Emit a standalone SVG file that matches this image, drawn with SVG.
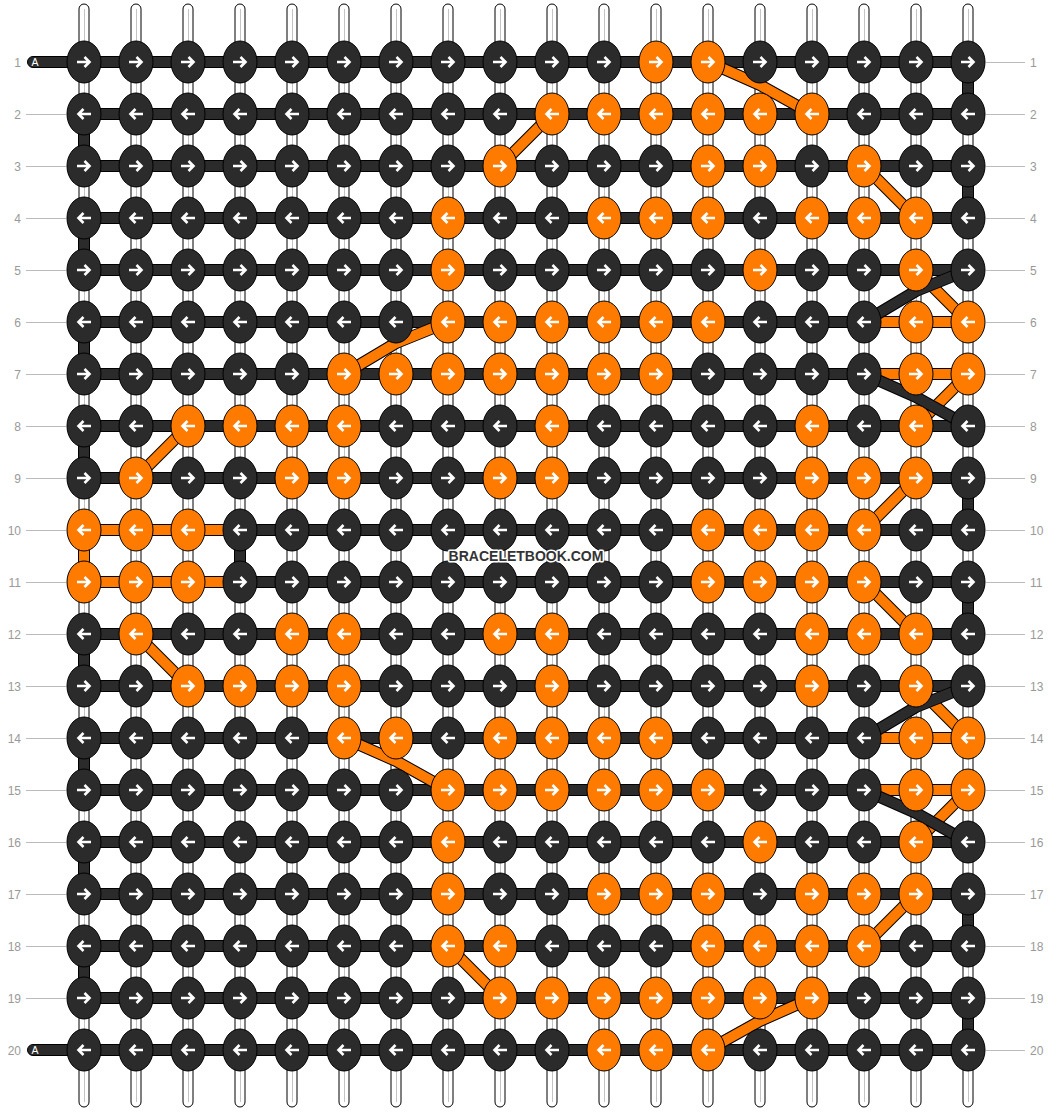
<svg xmlns="http://www.w3.org/2000/svg" width="1052" height="1112" viewBox="0 0 1052 1112">
<style>
.s{fill:#fff;stroke:#000;stroke-width:1}
.sl{stroke:#c4c4c4;stroke-width:1}
.hb{fill:#2b2b2b;stroke:#000;stroke-width:1}
.ho{fill:#ff7b00;stroke:#000;stroke-width:1}
.dgo{fill:none;stroke:#000;stroke-width:12;stroke-linejoin:round}
.dgc{fill:none;stroke-width:10;stroke-linejoin:round}
.cd{stroke:#2b2b2b}
.co{stroke:#ff7b00}
.kd{fill:#2b2b2b;stroke:#000;stroke-width:1}
.ko{fill:#ff7b00;stroke:#000;stroke-width:1}
.ar{fill:none;stroke:#fff;stroke-width:2.6}
.lb{font-family:"Liberation Sans",Arial,sans-serif;font-size:12px;fill:#999}
.gl{stroke:#bbb;stroke-width:1}
.pa{font-family:"Liberation Sans",Arial,sans-serif;font-size:10.5px;fill:#fff}
.wm{font-family:"Liberation Sans",Arial,sans-serif;font-size:14px;font-weight:bold;fill:#333;stroke:#fff;stroke-width:3;paint-order:stroke;stroke-linejoin:round}
</style>
<defs>
<g id="dR"><ellipse rx="17" ry="21" class="kd"/><path class="ar" d="M-7 0H5.5M0.5-5L5.5 0L0.5 5"/></g>
<g id="dL"><ellipse rx="17" ry="21" class="kd"/><path class="ar" d="M7 0H-5.5M-0.5-5L-5.5 0L-0.5 5"/></g>
<g id="oR"><ellipse rx="17" ry="21" class="ko"/><path class="ar" d="M-7 0H5.5M0.5-5L5.5 0L0.5 5"/></g>
<g id="oL"><ellipse rx="17" ry="21" class="ko"/><path class="ar" d="M7 0H-5.5M-0.5-5L-5.5 0L-0.5 5"/></g>
</defs>
<rect width="1052" height="1112" fill="#fff"/>
<g id="labels">
<g class="gl">
<line x1="26" y1="114.5" x2="66" y2="114.5"/><line x1="26" y1="166.5" x2="66" y2="166.5"/><line x1="26" y1="218.5" x2="66" y2="218.5"/><line x1="26" y1="270.5" x2="66" y2="270.5"/><line x1="26" y1="322.5" x2="66" y2="322.5"/><line x1="26" y1="374.5" x2="66" y2="374.5"/><line x1="26" y1="426.5" x2="66" y2="426.5"/><line x1="26" y1="478.5" x2="66" y2="478.5"/><line x1="26" y1="530.5" x2="66" y2="530.5"/><line x1="26" y1="582.5" x2="66" y2="582.5"/><line x1="26" y1="634.5" x2="66" y2="634.5"/><line x1="26" y1="686.5" x2="66" y2="686.5"/><line x1="26" y1="738.5" x2="66" y2="738.5"/><line x1="26" y1="790.5" x2="66" y2="790.5"/><line x1="26" y1="842.5" x2="66" y2="842.5"/><line x1="26" y1="894.5" x2="66" y2="894.5"/><line x1="26" y1="946.5" x2="66" y2="946.5"/><line x1="26" y1="998.5" x2="66" y2="998.5"/>
<line x1="986" y1="62.5" x2="1025" y2="62.5"/><line x1="986" y1="114.5" x2="1025" y2="114.5"/><line x1="986" y1="166.5" x2="1025" y2="166.5"/><line x1="986" y1="218.5" x2="1025" y2="218.5"/><line x1="986" y1="270.5" x2="1025" y2="270.5"/><line x1="986" y1="322.5" x2="1025" y2="322.5"/><line x1="986" y1="374.5" x2="1025" y2="374.5"/><line x1="986" y1="426.5" x2="1025" y2="426.5"/><line x1="986" y1="478.5" x2="1025" y2="478.5"/><line x1="986" y1="530.5" x2="1025" y2="530.5"/><line x1="986" y1="582.5" x2="1025" y2="582.5"/><line x1="986" y1="634.5" x2="1025" y2="634.5"/><line x1="986" y1="686.5" x2="1025" y2="686.5"/><line x1="986" y1="738.5" x2="1025" y2="738.5"/><line x1="986" y1="790.5" x2="1025" y2="790.5"/><line x1="986" y1="842.5" x2="1025" y2="842.5"/><line x1="986" y1="894.5" x2="1025" y2="894.5"/><line x1="986" y1="946.5" x2="1025" y2="946.5"/><line x1="986" y1="998.5" x2="1025" y2="998.5"/><line x1="986" y1="1050.5" x2="1025" y2="1050.5"/>
</g>
<g class="lb" text-anchor="end">
<text x="21" y="66.5">1</text><text x="21" y="118.5">2</text><text x="21" y="170.5">3</text><text x="21" y="222.5">4</text><text x="21" y="274.5">5</text><text x="21" y="326.5">6</text><text x="21" y="378.5">7</text><text x="21" y="430.5">8</text><text x="21" y="482.5">9</text><text x="21" y="534.5">10</text><text x="21" y="586.5">11</text><text x="21" y="638.5">12</text><text x="21" y="690.5">13</text><text x="21" y="742.5">14</text><text x="21" y="794.5">15</text><text x="21" y="846.5">16</text><text x="21" y="898.5">17</text><text x="21" y="950.5">18</text><text x="21" y="1002.5">19</text><text x="21" y="1054.5">20</text>
</g>
<g class="lb">
<text x="1030" y="66.5">1</text><text x="1030" y="118.5">2</text><text x="1030" y="170.5">3</text><text x="1030" y="222.5">4</text><text x="1030" y="274.5">5</text><text x="1030" y="326.5">6</text><text x="1030" y="378.5">7</text><text x="1030" y="430.5">8</text><text x="1030" y="482.5">9</text><text x="1030" y="534.5">10</text><text x="1030" y="586.5">11</text><text x="1030" y="638.5">12</text><text x="1030" y="690.5">13</text><text x="1030" y="742.5">14</text><text x="1030" y="794.5">15</text><text x="1030" y="846.5">16</text><text x="1030" y="898.5">17</text><text x="1030" y="950.5">18</text><text x="1030" y="1002.5">19</text><text x="1030" y="1054.5">20</text>
</g>
</g>
<g id="strings">
<rect class="s" x="79" y="4" width="10" height="1103" rx="5"/><rect class="s" x="131" y="4" width="10" height="1103" rx="5"/><rect class="s" x="183" y="4" width="10" height="1103" rx="5"/><rect class="s" x="235" y="4" width="10" height="1103" rx="5"/><rect class="s" x="287" y="4" width="10" height="1103" rx="5"/><rect class="s" x="339" y="4" width="10" height="1103" rx="5"/><rect class="s" x="391" y="4" width="10" height="1103" rx="5"/><rect class="s" x="443" y="4" width="10" height="1103" rx="5"/><rect class="s" x="495" y="4" width="10" height="1103" rx="5"/><rect class="s" x="547" y="4" width="10" height="1103" rx="5"/><rect class="s" x="599" y="4" width="10" height="1103" rx="5"/><rect class="s" x="651" y="4" width="10" height="1103" rx="5"/><rect class="s" x="703" y="4" width="10" height="1103" rx="5"/><rect class="s" x="755" y="4" width="10" height="1103" rx="5"/><rect class="s" x="807" y="4" width="10" height="1103" rx="5"/><rect class="s" x="859" y="4" width="10" height="1103" rx="5"/><rect class="s" x="911" y="4" width="10" height="1103" rx="5"/><rect class="s" x="963" y="4" width="10" height="1103" rx="5"/>
<g class="sl"><line x1="84.5" y1="9" x2="84.5" y2="1102"/><line x1="136.5" y1="9" x2="136.5" y2="1102"/><line x1="188.5" y1="9" x2="188.5" y2="1102"/><line x1="240.5" y1="9" x2="240.5" y2="1102"/><line x1="292.5" y1="9" x2="292.5" y2="1102"/><line x1="344.5" y1="9" x2="344.5" y2="1102"/><line x1="396.5" y1="9" x2="396.5" y2="1102"/><line x1="448.5" y1="9" x2="448.5" y2="1102"/><line x1="500.5" y1="9" x2="500.5" y2="1102"/><line x1="552.5" y1="9" x2="552.5" y2="1102"/><line x1="604.5" y1="9" x2="604.5" y2="1102"/><line x1="656.5" y1="9" x2="656.5" y2="1102"/><line x1="708.5" y1="9" x2="708.5" y2="1102"/><line x1="760.5" y1="9" x2="760.5" y2="1102"/><line x1="812.5" y1="9" x2="812.5" y2="1102"/><line x1="864.5" y1="9" x2="864.5" y2="1102"/><line x1="916.5" y1="9" x2="916.5" y2="1102"/><line x1="968.5" y1="9" x2="968.5" y2="1102"/></g>
</g>
<g id="connectors">
<rect class="hb" x="27.5" y="56.5" width="70" height="11" rx="5.5"/>
<rect class="hb" x="27.5" y="1044.5" width="70" height="11" rx="5.5"/>
<text class="pa" x="31.5" y="65.8">A</text>
<text class="pa" x="31.5" y="1053.8">A</text>
<g class="hb">
<rect x="78.5" y="114" width="11" height="52"/><rect x="78.5" y="218" width="11" height="52"/><rect x="78.5" y="322" width="11" height="52"/><rect x="78.5" y="426" width="11" height="52"/><rect x="78.5" y="634" width="11" height="52"/><rect x="78.5" y="738" width="11" height="52"/><rect x="78.5" y="842" width="11" height="52"/><rect x="78.5" y="946" width="11" height="52"/>
<rect x="234.5" y="530" width="11" height="52"/>
<rect x="962.5" y="62" width="11" height="52"/><rect x="962.5" y="166" width="11" height="52"/><rect x="962.5" y="478" width="11" height="52"/><rect x="962.5" y="582" width="11" height="52"/><rect x="962.5" y="894" width="11" height="52"/><rect x="962.5" y="998" width="11" height="52"/>
</g>
<rect class="ho" x="78.5" y="530" width="11" height="52"/>
<g class="hb">
<rect x="84" y="56.5" width="884" height="11"/><rect x="84" y="108.5" width="884" height="11"/><rect x="84" y="160.5" width="884" height="11"/><rect x="84" y="212.5" width="884" height="11"/><rect x="84" y="264.5" width="884" height="11"/><rect x="84" y="316.5" width="884" height="11"/><rect x="84" y="368.5" width="884" height="11"/><rect x="84" y="420.5" width="884" height="11"/><rect x="84" y="472.5" width="884" height="11"/><rect x="84" y="524.5" width="884" height="11"/><rect x="84" y="576.5" width="884" height="11"/><rect x="84" y="628.5" width="884" height="11"/><rect x="84" y="680.5" width="884" height="11"/><rect x="84" y="732.5" width="884" height="11"/><rect x="84" y="784.5" width="884" height="11"/><rect x="84" y="836.5" width="884" height="11"/><rect x="84" y="888.5" width="884" height="11"/><rect x="84" y="940.5" width="884" height="11"/><rect x="84" y="992.5" width="884" height="11"/><rect x="84" y="1044.5" width="884" height="11"/>
</g>
<g class="ho">
<rect x="864" y="316.5" width="104" height="11"/><rect x="864" y="368.5" width="104" height="11"/>
<rect x="84" y="524.5" width="156" height="11"/><rect x="84" y="576.5" width="156" height="11"/>
<rect x="864" y="732.5" width="104" height="11"/><rect x="864" y="784.5" width="104" height="11"/>
</g>
<g class="dgo">
<path d="M708 62L760 85L812 114"/><path d="M552 114L500 166"/><path d="M864 166L916 218"/><path d="M916 270L968 322"/><path d="M448 322L396 343L344 374"/><path d="M968 374L916 426"/><path d="M188 426L136 478"/><path d="M916 478L864 530"/><path d="M864 582L916 634"/><path d="M136 634L188 686"/><path d="M916 686L968 738"/><path d="M344 738L396 761L448 790"/><path d="M968 790L916 842"/><path d="M916 894L864 946"/><path d="M448 946L500 998"/><path d="M812 998L760 1021L708 1050"/>
</g>
<g class="dgc co">
<path d="M708 62L760 85L812 114"/><path d="M552 114L500 166"/><path d="M864 166L916 218"/><path d="M916 270L968 322"/><path d="M448 322L396 343L344 374"/><path d="M968 374L916 426"/><path d="M188 426L136 478"/><path d="M916 478L864 530"/><path d="M864 582L916 634"/><path d="M136 634L188 686"/><path d="M916 686L968 738"/><path d="M344 738L396 761L448 790"/><path d="M968 790L916 842"/><path d="M916 894L864 946"/><path d="M448 946L500 998"/><path d="M812 998L760 1021L708 1050"/>
</g>
<g class="dgo">
<path d="M968 270L916 291L864 322"/><path d="M864 374L916 397L968 426"/><path d="M968 686L916 707L864 738"/><path d="M864 790L916 813L968 842"/>
</g>
<g class="dgc cd">
<path d="M968 270L916 291L864 322"/><path d="M864 374L916 397L968 426"/><path d="M968 686L916 707L864 738"/><path d="M864 790L916 813L968 842"/>
</g>
</g>
<g id="knots">
<g transform="translate(0,62)">
<g id="n1-1"><use href="#dR" x="84"/></g><g id="n1-2"><use href="#dR" x="136"/></g><g id="n1-3"><use href="#dR" x="188"/></g><g id="n1-4"><use href="#dR" x="240"/></g><g id="n1-5"><use href="#dR" x="292"/></g><g id="n1-6"><use href="#dR" x="344"/></g><g id="n1-7"><use href="#dR" x="396"/></g><g id="n1-8"><use href="#dR" x="448"/></g><g id="n1-9"><use href="#dR" x="500"/></g><g id="n1-10"><use href="#dR" x="552"/></g><g id="n1-11"><use href="#dR" x="604"/></g><g id="n1-12"><use href="#oR" x="656"/></g><g id="n1-13"><use href="#oR" x="708"/></g><g id="n1-14"><use href="#dR" x="760"/></g><g id="n1-15"><use href="#dR" x="812"/></g><g id="n1-16"><use href="#dR" x="864"/></g><g id="n1-17"><use href="#dR" x="916"/></g><g id="n1-18"><use href="#dR" x="968"/></g>
</g>
<g transform="translate(0,114)">
<g id="n2-1"><use href="#dL" x="84"/></g><g id="n2-2"><use href="#dL" x="136"/></g><g id="n2-3"><use href="#dL" x="188"/></g><g id="n2-4"><use href="#dL" x="240"/></g><g id="n2-5"><use href="#dL" x="292"/></g><g id="n2-6"><use href="#dL" x="344"/></g><g id="n2-7"><use href="#dL" x="396"/></g><g id="n2-8"><use href="#dL" x="448"/></g><g id="n2-9"><use href="#dL" x="500"/></g><g id="n2-10"><use href="#oL" x="552"/></g><g id="n2-11"><use href="#oL" x="604"/></g><g id="n2-12"><use href="#oL" x="656"/></g><g id="n2-13"><use href="#oL" x="708"/></g><g id="n2-14"><use href="#oL" x="760"/></g><g id="n2-15"><use href="#oL" x="812"/></g><g id="n2-16"><use href="#dL" x="864"/></g><g id="n2-17"><use href="#dL" x="916"/></g><g id="n2-18"><use href="#dL" x="968"/></g>
</g>
<g transform="translate(0,166)">
<g id="n3-1"><use href="#dR" x="84"/></g><g id="n3-2"><use href="#dR" x="136"/></g><g id="n3-3"><use href="#dR" x="188"/></g><g id="n3-4"><use href="#dR" x="240"/></g><g id="n3-5"><use href="#dR" x="292"/></g><g id="n3-6"><use href="#dR" x="344"/></g><g id="n3-7"><use href="#dR" x="396"/></g><g id="n3-8"><use href="#dR" x="448"/></g><g id="n3-9"><use href="#oR" x="500"/></g><g id="n3-10"><use href="#dR" x="552"/></g><g id="n3-11"><use href="#dR" x="604"/></g><g id="n3-12"><use href="#dR" x="656"/></g><g id="n3-13"><use href="#oR" x="708"/></g><g id="n3-14"><use href="#oR" x="760"/></g><g id="n3-15"><use href="#dR" x="812"/></g><g id="n3-16"><use href="#oR" x="864"/></g><g id="n3-17"><use href="#dR" x="916"/></g><g id="n3-18"><use href="#dR" x="968"/></g>
</g>
<g transform="translate(0,218)">
<g id="n4-1"><use href="#dL" x="84"/></g><g id="n4-2"><use href="#dL" x="136"/></g><g id="n4-3"><use href="#dL" x="188"/></g><g id="n4-4"><use href="#dL" x="240"/></g><g id="n4-5"><use href="#dL" x="292"/></g><g id="n4-6"><use href="#dL" x="344"/></g><g id="n4-7"><use href="#dL" x="396"/></g><g id="n4-8"><use href="#oL" x="448"/></g><g id="n4-9"><use href="#dL" x="500"/></g><g id="n4-10"><use href="#dL" x="552"/></g><g id="n4-11"><use href="#oL" x="604"/></g><g id="n4-12"><use href="#oL" x="656"/></g><g id="n4-13"><use href="#oL" x="708"/></g><g id="n4-14"><use href="#dL" x="760"/></g><g id="n4-15"><use href="#oL" x="812"/></g><g id="n4-16"><use href="#oL" x="864"/></g><g id="n4-17"><use href="#oL" x="916"/></g><g id="n4-18"><use href="#dL" x="968"/></g>
</g>
<g transform="translate(0,270)">
<g id="n5-1"><use href="#dR" x="84"/></g><g id="n5-2"><use href="#dR" x="136"/></g><g id="n5-3"><use href="#dR" x="188"/></g><g id="n5-4"><use href="#dR" x="240"/></g><g id="n5-5"><use href="#dR" x="292"/></g><g id="n5-6"><use href="#dR" x="344"/></g><g id="n5-7"><use href="#dR" x="396"/></g><g id="n5-8"><use href="#oR" x="448"/></g><g id="n5-9"><use href="#dR" x="500"/></g><g id="n5-10"><use href="#dR" x="552"/></g><g id="n5-11"><use href="#dR" x="604"/></g><g id="n5-12"><use href="#dR" x="656"/></g><g id="n5-13"><use href="#dR" x="708"/></g><g id="n5-14"><use href="#oR" x="760"/></g><g id="n5-15"><use href="#dR" x="812"/></g><g id="n5-16"><use href="#dR" x="864"/></g><g id="n5-17"><use href="#oR" x="916"/></g><g id="n5-18"><use href="#dR" x="968"/></g>
</g>
<g transform="translate(0,322)">
<g id="n6-1"><use href="#dL" x="84"/></g><g id="n6-2"><use href="#dL" x="136"/></g><g id="n6-3"><use href="#dL" x="188"/></g><g id="n6-4"><use href="#dL" x="240"/></g><g id="n6-5"><use href="#dL" x="292"/></g><g id="n6-6"><use href="#dL" x="344"/></g><g id="n6-7"><use href="#dL" x="396"/></g><g id="n6-8"><use href="#oL" x="448"/></g><g id="n6-9"><use href="#oL" x="500"/></g><g id="n6-10"><use href="#oL" x="552"/></g><g id="n6-11"><use href="#oL" x="604"/></g><g id="n6-12"><use href="#oL" x="656"/></g><g id="n6-13"><use href="#oL" x="708"/></g><g id="n6-14"><use href="#dL" x="760"/></g><g id="n6-15"><use href="#dL" x="812"/></g><g id="n6-16"><use href="#dL" x="864"/></g><g id="n6-17"><use href="#oL" x="916"/></g><g id="n6-18"><use href="#oL" x="968"/></g>
</g>
<g transform="translate(0,374)">
<g id="n7-1"><use href="#dR" x="84"/></g><g id="n7-2"><use href="#dR" x="136"/></g><g id="n7-3"><use href="#dR" x="188"/></g><g id="n7-4"><use href="#dR" x="240"/></g><g id="n7-5"><use href="#dR" x="292"/></g><g id="n7-6"><use href="#oR" x="344"/></g><g id="n7-7"><use href="#oR" x="396"/></g><g id="n7-8"><use href="#oR" x="448"/></g><g id="n7-9"><use href="#oR" x="500"/></g><g id="n7-10"><use href="#oR" x="552"/></g><g id="n7-11"><use href="#oR" x="604"/></g><g id="n7-12"><use href="#oR" x="656"/></g><g id="n7-13"><use href="#dR" x="708"/></g><g id="n7-14"><use href="#dR" x="760"/></g><g id="n7-15"><use href="#dR" x="812"/></g><g id="n7-16"><use href="#dR" x="864"/></g><g id="n7-17"><use href="#oR" x="916"/></g><g id="n7-18"><use href="#oR" x="968"/></g>
</g>
<g transform="translate(0,426)">
<g id="n8-1"><use href="#dL" x="84"/></g><g id="n8-2"><use href="#dL" x="136"/></g><g id="n8-3"><use href="#oL" x="188"/></g><g id="n8-4"><use href="#oL" x="240"/></g><g id="n8-5"><use href="#oL" x="292"/></g><g id="n8-6"><use href="#oL" x="344"/></g><g id="n8-7"><use href="#dL" x="396"/></g><g id="n8-8"><use href="#dL" x="448"/></g><g id="n8-9"><use href="#dL" x="500"/></g><g id="n8-10"><use href="#oL" x="552"/></g><g id="n8-11"><use href="#dL" x="604"/></g><g id="n8-12"><use href="#dL" x="656"/></g><g id="n8-13"><use href="#dL" x="708"/></g><g id="n8-14"><use href="#dL" x="760"/></g><g id="n8-15"><use href="#oL" x="812"/></g><g id="n8-16"><use href="#dL" x="864"/></g><g id="n8-17"><use href="#oL" x="916"/></g><g id="n8-18"><use href="#dL" x="968"/></g>
</g>
<g transform="translate(0,478)">
<g id="n9-1"><use href="#dR" x="84"/></g><g id="n9-2"><use href="#oR" x="136"/></g><g id="n9-3"><use href="#dR" x="188"/></g><g id="n9-4"><use href="#dR" x="240"/></g><g id="n9-5"><use href="#oR" x="292"/></g><g id="n9-6"><use href="#oR" x="344"/></g><g id="n9-7"><use href="#dR" x="396"/></g><g id="n9-8"><use href="#dR" x="448"/></g><g id="n9-9"><use href="#oR" x="500"/></g><g id="n9-10"><use href="#oR" x="552"/></g><g id="n9-11"><use href="#dR" x="604"/></g><g id="n9-12"><use href="#dR" x="656"/></g><g id="n9-13"><use href="#dR" x="708"/></g><g id="n9-14"><use href="#dR" x="760"/></g><g id="n9-15"><use href="#oR" x="812"/></g><g id="n9-16"><use href="#oR" x="864"/></g><g id="n9-17"><use href="#oR" x="916"/></g><g id="n9-18"><use href="#dR" x="968"/></g>
</g>
<g transform="translate(0,530)">
<g id="n10-1"><use href="#oL" x="84"/></g><g id="n10-2"><use href="#oL" x="136"/></g><g id="n10-3"><use href="#oL" x="188"/></g><g id="n10-4"><use href="#dL" x="240"/></g><g id="n10-5"><use href="#dL" x="292"/></g><g id="n10-6"><use href="#dL" x="344"/></g><g id="n10-7"><use href="#dL" x="396"/></g><g id="n10-8"><use href="#dL" x="448"/></g><g id="n10-9"><use href="#dL" x="500"/></g><g id="n10-10"><use href="#dL" x="552"/></g><g id="n10-11"><use href="#dL" x="604"/></g><g id="n10-12"><use href="#dL" x="656"/></g><g id="n10-13"><use href="#oL" x="708"/></g><g id="n10-14"><use href="#oL" x="760"/></g><g id="n10-15"><use href="#oL" x="812"/></g><g id="n10-16"><use href="#oL" x="864"/></g><g id="n10-17"><use href="#dL" x="916"/></g><g id="n10-18"><use href="#dL" x="968"/></g>
</g>
<g transform="translate(0,582)">
<g id="n11-1"><use href="#oR" x="84"/></g><g id="n11-2"><use href="#oR" x="136"/></g><g id="n11-3"><use href="#oR" x="188"/></g><g id="n11-4"><use href="#dR" x="240"/></g><g id="n11-5"><use href="#dR" x="292"/></g><g id="n11-6"><use href="#dR" x="344"/></g><g id="n11-7"><use href="#dR" x="396"/></g><g id="n11-8"><use href="#dR" x="448"/></g><g id="n11-9"><use href="#dR" x="500"/></g><g id="n11-10"><use href="#dR" x="552"/></g><g id="n11-11"><use href="#dR" x="604"/></g><g id="n11-12"><use href="#dR" x="656"/></g><g id="n11-13"><use href="#oR" x="708"/></g><g id="n11-14"><use href="#oR" x="760"/></g><g id="n11-15"><use href="#oR" x="812"/></g><g id="n11-16"><use href="#oR" x="864"/></g><g id="n11-17"><use href="#dR" x="916"/></g><g id="n11-18"><use href="#dR" x="968"/></g>
</g>
<g transform="translate(0,634)">
<g id="n12-1"><use href="#dL" x="84"/></g><g id="n12-2"><use href="#oL" x="136"/></g><g id="n12-3"><use href="#dL" x="188"/></g><g id="n12-4"><use href="#dL" x="240"/></g><g id="n12-5"><use href="#oL" x="292"/></g><g id="n12-6"><use href="#oL" x="344"/></g><g id="n12-7"><use href="#dL" x="396"/></g><g id="n12-8"><use href="#dL" x="448"/></g><g id="n12-9"><use href="#oL" x="500"/></g><g id="n12-10"><use href="#oL" x="552"/></g><g id="n12-11"><use href="#dL" x="604"/></g><g id="n12-12"><use href="#dL" x="656"/></g><g id="n12-13"><use href="#dL" x="708"/></g><g id="n12-14"><use href="#dL" x="760"/></g><g id="n12-15"><use href="#oL" x="812"/></g><g id="n12-16"><use href="#oL" x="864"/></g><g id="n12-17"><use href="#oL" x="916"/></g><g id="n12-18"><use href="#dL" x="968"/></g>
</g>
<g transform="translate(0,686)">
<g id="n13-1"><use href="#dR" x="84"/></g><g id="n13-2"><use href="#dR" x="136"/></g><g id="n13-3"><use href="#oR" x="188"/></g><g id="n13-4"><use href="#oR" x="240"/></g><g id="n13-5"><use href="#oR" x="292"/></g><g id="n13-6"><use href="#oR" x="344"/></g><g id="n13-7"><use href="#dR" x="396"/></g><g id="n13-8"><use href="#dR" x="448"/></g><g id="n13-9"><use href="#dR" x="500"/></g><g id="n13-10"><use href="#oR" x="552"/></g><g id="n13-11"><use href="#dR" x="604"/></g><g id="n13-12"><use href="#dR" x="656"/></g><g id="n13-13"><use href="#dR" x="708"/></g><g id="n13-14"><use href="#dR" x="760"/></g><g id="n13-15"><use href="#oR" x="812"/></g><g id="n13-16"><use href="#dR" x="864"/></g><g id="n13-17"><use href="#oR" x="916"/></g><g id="n13-18"><use href="#dR" x="968"/></g>
</g>
<g transform="translate(0,738)">
<g id="n14-1"><use href="#dL" x="84"/></g><g id="n14-2"><use href="#dL" x="136"/></g><g id="n14-3"><use href="#dL" x="188"/></g><g id="n14-4"><use href="#dL" x="240"/></g><g id="n14-5"><use href="#dL" x="292"/></g><g id="n14-6"><use href="#oL" x="344"/></g><g id="n14-7"><use href="#oL" x="396"/></g><g id="n14-8"><use href="#dL" x="448"/></g><g id="n14-9"><use href="#oL" x="500"/></g><g id="n14-10"><use href="#oL" x="552"/></g><g id="n14-11"><use href="#oL" x="604"/></g><g id="n14-12"><use href="#oL" x="656"/></g><g id="n14-13"><use href="#dL" x="708"/></g><g id="n14-14"><use href="#dL" x="760"/></g><g id="n14-15"><use href="#dL" x="812"/></g><g id="n14-16"><use href="#dL" x="864"/></g><g id="n14-17"><use href="#oL" x="916"/></g><g id="n14-18"><use href="#oL" x="968"/></g>
</g>
<g transform="translate(0,790)">
<g id="n15-1"><use href="#dR" x="84"/></g><g id="n15-2"><use href="#dR" x="136"/></g><g id="n15-3"><use href="#dR" x="188"/></g><g id="n15-4"><use href="#dR" x="240"/></g><g id="n15-5"><use href="#dR" x="292"/></g><g id="n15-6"><use href="#dR" x="344"/></g><g id="n15-7"><use href="#dR" x="396"/></g><g id="n15-8"><use href="#oR" x="448"/></g><g id="n15-9"><use href="#oR" x="500"/></g><g id="n15-10"><use href="#oR" x="552"/></g><g id="n15-11"><use href="#oR" x="604"/></g><g id="n15-12"><use href="#oR" x="656"/></g><g id="n15-13"><use href="#oR" x="708"/></g><g id="n15-14"><use href="#dR" x="760"/></g><g id="n15-15"><use href="#dR" x="812"/></g><g id="n15-16"><use href="#dR" x="864"/></g><g id="n15-17"><use href="#oR" x="916"/></g><g id="n15-18"><use href="#oR" x="968"/></g>
</g>
<g transform="translate(0,842)">
<g id="n16-1"><use href="#dL" x="84"/></g><g id="n16-2"><use href="#dL" x="136"/></g><g id="n16-3"><use href="#dL" x="188"/></g><g id="n16-4"><use href="#dL" x="240"/></g><g id="n16-5"><use href="#dL" x="292"/></g><g id="n16-6"><use href="#dL" x="344"/></g><g id="n16-7"><use href="#dL" x="396"/></g><g id="n16-8"><use href="#oL" x="448"/></g><g id="n16-9"><use href="#dL" x="500"/></g><g id="n16-10"><use href="#dL" x="552"/></g><g id="n16-11"><use href="#dL" x="604"/></g><g id="n16-12"><use href="#dL" x="656"/></g><g id="n16-13"><use href="#dL" x="708"/></g><g id="n16-14"><use href="#oL" x="760"/></g><g id="n16-15"><use href="#dL" x="812"/></g><g id="n16-16"><use href="#dL" x="864"/></g><g id="n16-17"><use href="#oL" x="916"/></g><g id="n16-18"><use href="#dL" x="968"/></g>
</g>
<g transform="translate(0,894)">
<g id="n17-1"><use href="#dR" x="84"/></g><g id="n17-2"><use href="#dR" x="136"/></g><g id="n17-3"><use href="#dR" x="188"/></g><g id="n17-4"><use href="#dR" x="240"/></g><g id="n17-5"><use href="#dR" x="292"/></g><g id="n17-6"><use href="#dR" x="344"/></g><g id="n17-7"><use href="#dR" x="396"/></g><g id="n17-8"><use href="#oR" x="448"/></g><g id="n17-9"><use href="#dR" x="500"/></g><g id="n17-10"><use href="#dR" x="552"/></g><g id="n17-11"><use href="#oR" x="604"/></g><g id="n17-12"><use href="#oR" x="656"/></g><g id="n17-13"><use href="#oR" x="708"/></g><g id="n17-14"><use href="#dR" x="760"/></g><g id="n17-15"><use href="#oR" x="812"/></g><g id="n17-16"><use href="#oR" x="864"/></g><g id="n17-17"><use href="#oR" x="916"/></g><g id="n17-18"><use href="#dR" x="968"/></g>
</g>
<g transform="translate(0,946)">
<g id="n18-1"><use href="#dL" x="84"/></g><g id="n18-2"><use href="#dL" x="136"/></g><g id="n18-3"><use href="#dL" x="188"/></g><g id="n18-4"><use href="#dL" x="240"/></g><g id="n18-5"><use href="#dL" x="292"/></g><g id="n18-6"><use href="#dL" x="344"/></g><g id="n18-7"><use href="#dL" x="396"/></g><g id="n18-8"><use href="#oL" x="448"/></g><g id="n18-9"><use href="#oL" x="500"/></g><g id="n18-10"><use href="#dL" x="552"/></g><g id="n18-11"><use href="#dL" x="604"/></g><g id="n18-12"><use href="#dL" x="656"/></g><g id="n18-13"><use href="#oL" x="708"/></g><g id="n18-14"><use href="#oL" x="760"/></g><g id="n18-15"><use href="#oL" x="812"/></g><g id="n18-16"><use href="#oL" x="864"/></g><g id="n18-17"><use href="#dL" x="916"/></g><g id="n18-18"><use href="#dL" x="968"/></g>
</g>
<g transform="translate(0,998)">
<g id="n19-1"><use href="#dR" x="84"/></g><g id="n19-2"><use href="#dR" x="136"/></g><g id="n19-3"><use href="#dR" x="188"/></g><g id="n19-4"><use href="#dR" x="240"/></g><g id="n19-5"><use href="#dR" x="292"/></g><g id="n19-6"><use href="#dR" x="344"/></g><g id="n19-7"><use href="#dR" x="396"/></g><g id="n19-8"><use href="#dR" x="448"/></g><g id="n19-9"><use href="#oR" x="500"/></g><g id="n19-10"><use href="#oR" x="552"/></g><g id="n19-11"><use href="#oR" x="604"/></g><g id="n19-12"><use href="#oR" x="656"/></g><g id="n19-13"><use href="#oR" x="708"/></g><g id="n19-14"><use href="#oR" x="760"/></g><g id="n19-15"><use href="#oR" x="812"/></g><g id="n19-16"><use href="#dR" x="864"/></g><g id="n19-17"><use href="#dR" x="916"/></g><g id="n19-18"><use href="#dR" x="968"/></g>
</g>
<g transform="translate(0,1050)">
<g id="n20-1"><use href="#dL" x="84"/></g><g id="n20-2"><use href="#dL" x="136"/></g><g id="n20-3"><use href="#dL" x="188"/></g><g id="n20-4"><use href="#dL" x="240"/></g><g id="n20-5"><use href="#dL" x="292"/></g><g id="n20-6"><use href="#dL" x="344"/></g><g id="n20-7"><use href="#dL" x="396"/></g><g id="n20-8"><use href="#dL" x="448"/></g><g id="n20-9"><use href="#dL" x="500"/></g><g id="n20-10"><use href="#dL" x="552"/></g><g id="n20-11"><use href="#oL" x="604"/></g><g id="n20-12"><use href="#oL" x="656"/></g><g id="n20-13"><use href="#oL" x="708"/></g><g id="n20-14"><use href="#dL" x="760"/></g><g id="n20-15"><use href="#dL" x="812"/></g><g id="n20-16"><use href="#dL" x="864"/></g><g id="n20-17"><use href="#dL" x="916"/></g><g id="n20-18"><use href="#dL" x="968"/></g>
</g>
</g>
<text class="wm" x="526" y="561" text-anchor="middle">BRACELETBOOK.COM</text>
</svg>
